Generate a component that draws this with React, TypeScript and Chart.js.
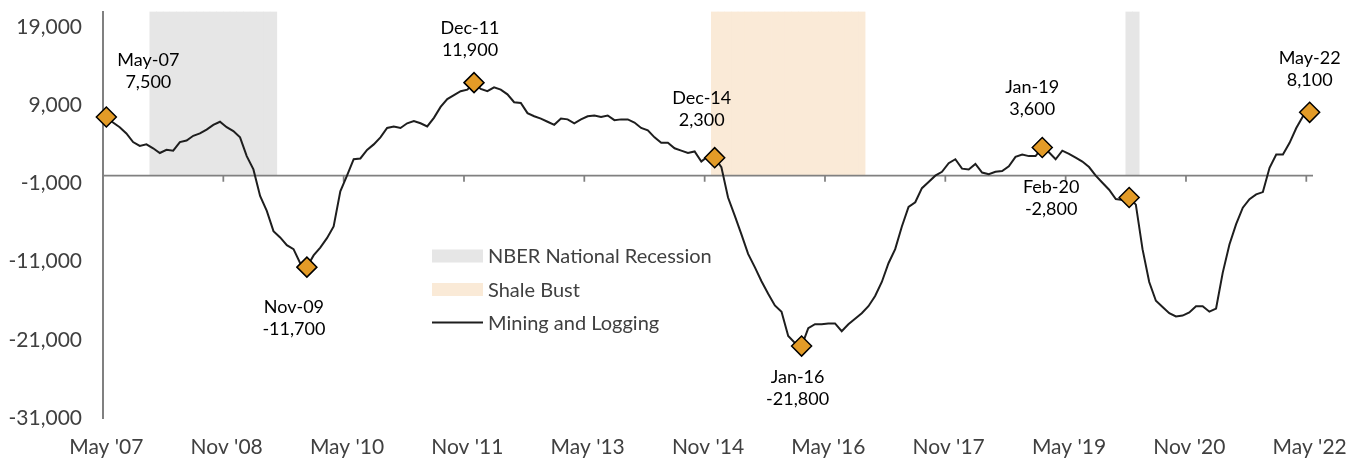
import React, { useEffect, useRef } from "react";
import { Chart, registerables } from "chart.js";

Chart.register(...registerables);

// ---------- DATA ----------
const MONTH_NAMES = ["Jan", "Feb", "Mar", "Apr", "May", "Jun", "Jul", "Aug", "Sep", "Oct", "Nov", "Dec"];
const FIRST_YEAR = 2007;
const FIRST_MONTH = 4; // May
const MONTH_COUNT = 181; // May-07 .. May-22

const categories: string[] = [];
for (let i = 0; i < MONTH_COUNT; i++) {
  const m = (FIRST_MONTH + i) % 12;
  const y = FIRST_YEAR + Math.floor((FIRST_MONTH + i) / 12);
  categories.push(`${MONTH_NAMES[m]}-${String(y % 100).padStart(2, "0")}`);
}

// Mining and Logging, year-over-year job change (monthly, May-07 .. May-22)
const miningLogging = [
  7500, 6800, 6200, 5400, 4300, 3800, 4000, 3500, 2900, 3300,
  3200, 4300, 4500, 5100, 5400, 5900, 6500, 6900, 6200, 5700,
  4900, 2500, 800, -2600, -4500, -7100, -7900, -8900, -9400, -11200,
  -11700, -10200, -9200, -8000, -6500, -2000, 0, 2100, 2200, 3300,
  4000, 4900, 6100, 6300, 6100, 6700, 7000, 6700, 6300, 7400,
  8800, 9800, 10300, 10800, 11000, 11900, 11100, 10800, 11300, 11000,
  10400, 9400, 9300, 8000, 7600, 7300, 6900, 6500, 7300, 7200,
  6700, 7200, 7600, 7700, 7500, 7700, 7100, 7200, 7200, 6800,
  6100, 5800, 4900, 4200, 4200, 3500, 3200, 2900, 3100, 1800,
  2500, 2300, 1100, -2800, -5100, -7500, -10000, -11700, -13500, -15100,
  -16600, -17400, -20500, -21400, -21800, -19500, -19000, -19000, -18900, -18900,
  -19900, -19000, -18300, -17600, -16700, -15400, -13600, -11200, -9400, -6500,
  -4000, -3400, -1600, -800, 0, 500, 1600, 2100, 900, 800,
  1500, 400, 200, 500, 600, 1200, 2400, 2700, 2500, 2500,
  3600, 3000, 2100, 3200, 2800, 2300, 1800, 1100, 0, -900,
  -1800, -3000, -3100, -2800, -3700, -9400, -13600, -16000, -16800, -17600,
  -18000, -17900, -17500, -16700, -16700, -17400, -17000, -12400, -8800, -6200,
  -4100, -3000, -2400, -2100, 1000, 2700, 2700, 4200, 6100, 7600,
  8100,
];

const markerMonths = ["May-07", "Nov-09", "Dec-11", "Dec-14", "Jan-16", "Jan-19", "Feb-20", "May-22"];
const markerValues = [7500, -11700, 11900, 2300, -21800, 3600, -2800, 8100];

const nberPeriods = [["Dec-07", "Jun-09"], ["Feb-20", "Mar-20"]];
const shalePeriods = [["Dec-14", "Oct-16"]];

const xTickLabels = ["May '07", "Nov '08", "May '10", "Nov '11", "May '13", "Nov '14", "May '16", "Nov '17", "May '19", "Nov '20", "May '22"];
const X_TICK_EVERY = 18;
const yTickValues = [-31000, -21000, -11000, -1000, 9000, 19000];
const Y_MIN = -31000;
const Y_MAX = 21000;

// ---------- LAYOUT (label offsets from marker, first line centre) ----------
const labelOffsets = [
  [42, -57], [-13, 40], [-4, -54], [-13, -59], [-4, 31], [-10, -60], [-78, -10], [0, -54],
];

// ---------- STYLE ----------
const FONT = "Lato, 'DejaVu Sans', sans-serif";
const AXIS_TEXT = "#404040";
const AXIS_LINE = "#808080";
const NBER_COLOR = "#e6e6e6";
const SHALE_COLOR = "#faead7";
const LINE_COLOR = "#1e1e1e";
const MARKER_COLOR = "#e39b27";

function shadeData(periods: string[][]) {
  const out: (number | null)[] = categories.map(() => null);
  periods.forEach(([a, b]) => {
    const s = categories.indexOf(a);
    const e = categories.indexOf(b);
    for (let i = s; i <= e; i++) out[i] = Y_MAX;
  });
  return out;
}

const markerData: (number | null)[] = categories.map((c) => {
  const k = markerMonths.indexOf(c);
  return k >= 0 ? markerValues[k] : null;
});

const LINE_INDEX = 1;

const overlayPlugin = {
  id: "overlay",
  beforeDatasetDraw(chart: any, args: any) {
    if (args.index !== LINE_INDEX) return;
    const { ctx, chartArea } = chart;
    const x = chart.scales.x;
    const y = chart.scales.y;
    const y0 = y.getPixelForValue(0);
    const half = (x.getPixelForValue(1) - x.getPixelForValue(0)) / 2;
    ctx.save();
    ctx.strokeStyle = AXIS_LINE;
    ctx.lineWidth = 1.75;
    ctx.beginPath();
    ctx.moveTo(chartArea.left, y0);
    ctx.lineTo(chartArea.right, y0);
    for (let i = 0; i < categories.length; i += X_TICK_EVERY) {
      const px = x.getPixelForValue(i) - half;
      ctx.moveTo(px, y0);
      ctx.lineTo(px, y0 + 6);
    }
    ctx.stroke();
    ctx.restore();
  },
  afterDatasetsDraw(chart: any) {
    const { ctx } = chart;
    const x = chart.scales.x;
    const y = chart.scales.y;
    ctx.save();
    // annotations
    ctx.fillStyle = "#000";
    ctx.font = `18px ${FONT}`;
    ctx.textAlign = "center";
    ctx.textBaseline = "middle";
    markerMonths.forEach((m, k) => {
      const idx = categories.indexOf(m);
      const px = x.getPixelForValue(idx);
      const py = y.getPixelForValue(markerValues[k]);
      const [dx, dy] = labelOffsets[k];
      ctx.fillText(m, px + dx, py + dy);
      ctx.fillText(markerValues[k].toLocaleString("en-US"), px + dx, py + dy + 22);
    });
    // legend
    const items = chart.data.datasets;
    const lx = 432;
    const rows = [
      { ds: items[2], y: 256 },
      { ds: items[3], y: 289.5 },
      { ds: items[1], y: 322.5 },
    ];
    ctx.font = `20px ${FONT}`;
    ctx.textAlign = "left";
    rows.forEach((r, i) => {
      if (i < 2) {
        ctx.fillStyle = r.ds.backgroundColor;
        ctx.fillRect(lx, r.y - 6.5, 51, 13);
      } else {
        ctx.strokeStyle = r.ds.borderColor;
        ctx.lineWidth = 2;
        ctx.beginPath();
        ctx.moveTo(lx, r.y);
        ctx.lineTo(lx + 51, r.y);
        ctx.stroke();
      }
      ctx.fillStyle = AXIS_TEXT;
      ctx.fillText(r.ds.label, lx + 56, r.y + 1);
    });
    ctx.restore();
  },
};

export default function App() {
  const ref = useRef<HTMLCanvasElement>(null);
  useEffect(() => {
    const chart = new Chart(ref.current as HTMLCanvasElement, {
      type: "bar",
      data: {
        labels: categories,
        datasets: [
          {
            type: "line",
            label: "Markers",
            data: markerData,
            showLine: false,
            pointStyle: "rectRot",
            pointRadius: 10,
            pointBackgroundColor: MARKER_COLOR,
            pointBorderColor: "#000",
            pointBorderWidth: 1.5,
            order: 0,
          } as any,
          {
            type: "line",
            label: "Mining and Logging",
            data: miningLogging,
            borderColor: LINE_COLOR,
            borderWidth: 2,
            pointRadius: 0,
            tension: 0,
            order: 1,
          } as any,
          {
            type: "bar",
            label: "NBER National Recession",
            data: shadeData(nberPeriods),
            backgroundColor: NBER_COLOR,
            barPercentage: 1,
            categoryPercentage: 1,
            grouped: false,
            borderWidth: 0,
            order: 2,
          } as any,
          {
            type: "bar",
            label: "Shale Bust",
            data: shadeData(shalePeriods),
            backgroundColor: SHALE_COLOR,
            barPercentage: 1,
            categoryPercentage: 1,
            grouped: false,
            borderWidth: 0,
            order: 3,
          } as any,
        ],
      },
      options: {
        responsive: false,
        animation: false,
        layout: { padding: { top: 9, right: 51, left: 0, bottom: 0 } },
        plugins: { legend: { display: false }, tooltip: { enabled: false } },
        scales: {
          x: {
            type: "category",
            offset: true,
            grid: { display: false, drawTicks: false },
            border: { display: false },
            ticks: {
              autoSkip: false,
              maxRotation: 0,
              padding: 17,
              color: AXIS_TEXT,
              font: { family: FONT, size: 21 },
              callback: (_v: any, i: number) => (i % X_TICK_EVERY === 0 ? xTickLabels[i / X_TICK_EVERY] : null),
            },
            afterFit: (s: any) => { s.height = 42; s.paddingLeft = 0; s.paddingRight = 0; },
          },
          y: {
            min: Y_MIN,
            max: Y_MAX,
            grid: { display: false, drawTicks: false },
            border: { display: true, color: AXIS_LINE, width: 2 },
            afterBuildTicks: (s: any) => { s.ticks = yTickValues.map((v) => ({ value: v })); },
            ticks: {
              padding: 21,
              color: AXIS_TEXT,
              font: { family: FONT, size: 21 },
              callback: (v: any) => Number(v).toLocaleString("en-US"),
            },
            afterFit: (s: any) => { s.width = 103; s.paddingTop = 0; s.paddingBottom = 0; },
          },
        },
      },
      plugins: [overlayPlugin],
    } as any);
    return () => chart.destroy();
  }, []);
  return (
    <div style={{ position: "fixed", left: 0, top: 0, width: 1364, height: 460, background: "#fff" }}>
      <canvas ref={ref} width={1364} height={460} style={{ display: "block", width: 1364, height: 460 }} />
    </div>
  );
}
